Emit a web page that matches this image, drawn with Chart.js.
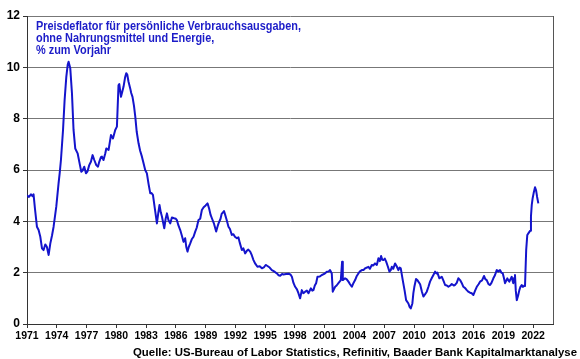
<!DOCTYPE html>
<html>
<head>
<meta charset="utf-8">
<script src="https://cdn.jsdelivr.net/npm/chart.js@4"></script>
<style>
html,body{margin:0;padding:0;background:#fff;}
canvas{display:block;}
</style>
</head>
<body>
<canvas id="c" width="580" height="359"></canvas>
<script>
const titleLines = ["Preisdeflator für persönliche Verbrauchsausgaben,", "ohne Nahrungsmittel und Energie,", "% zum Vorjahr"];
const sourceText = "Quelle: US-Bureau of Labor Statistics, Refinitiv, Baader Bank Kapitalmarktanalyse";
const yTicks = [0, 2, 4, 6, 8, 10, 12];
const xTickYears = [1971,1974,1977,1980,1983,1986,1989,1992,1995,1998,2001,2004,2007,2010,2013,2016,2019,2022];

const years = [
1971.00,1971.20,1971.40,1971.55,1971.66,1971.80,1972.00,1972.17,1972.34,1972.51,1972.67,1972.84,1973.00,1973.18,1973.35,1973.52,1973.68,1973.95,
1974.18,1974.30,1974.42,1974.63,1974.79,1974.96,1975.10,1975.19,1975.36,1975.53,1975.69,1975.86,1976.10,1976.30,1976.47,1976.60,1976.77,1976.94,
1977.10,1977.27,1977.44,1977.61,1977.78,1977.98,1978.15,1978.28,1978.45,1978.55,1978.71,1978.89,1978.99,1979.22,1979.46,1979.66,1979.89,1980.06,
1980.22,1980.30,1980.47,1980.60,1980.73,1980.88,1981.00,1981.10,1981.23,1981.40,1981.50,1981.63,1981.78,1981.91,1982.05,1982.24,1982.40,1982.58,
1982.75,1982.91,1983.08,1983.25,1983.42,1983.55,1983.69,1983.90,1984.09,1984.22,1984.35,1984.48,1984.60,1984.83,1984.97,1985.10,1985.25,1985.43,
1985.60,1985.83,1986.00,1986.10,1986.25,1986.44,1986.60,1986.77,1986.94,1987.05,1987.17,1987.30,1987.45,1987.60,1987.78,1987.95,1988.10,1988.28,
1988.45,1988.62,1988.80,1989.00,1989.19,1989.35,1989.50,1989.63,1989.85,1990.06,1990.20,1990.30,1990.50,1990.62,1990.74,1990.85,1990.97,1991.12,
1991.30,1991.45,1991.64,1991.80,1991.95,1992.15,1992.30,1992.45,1992.65,1992.80,1992.98,1993.15,1993.30,1993.49,1993.65,1993.82,1994.00,1994.22,
1994.45,1994.67,1994.90,1995.05,1995.23,1995.45,1995.67,1995.90,1996.18,1996.35,1996.51,1996.70,1996.84,1997.10,1997.34,1997.55,1997.69,1997.85,
1998.02,1998.20,1998.35,1998.52,1998.69,1998.85,1999.03,1999.20,1999.36,1999.60,1999.75,1999.86,2000.00,2000.13,2000.27,2000.50,2000.71,2000.95,
2001.21,2001.40,2001.54,2001.71,2001.81,2002.05,2002.20,2002.38,2002.62,2002.75,2002.82,2003.05,2003.20,2003.39,2003.55,2003.73,2003.90,2004.06,
2004.20,2004.39,2004.55,2004.74,2004.90,2005.07,2005.25,2005.40,2005.55,2005.74,2005.90,2006.07,2006.25,2006.41,2006.55,2006.68,2006.80,2006.91,
2007.05,2007.19,2007.35,2007.52,2007.65,2007.76,2007.90,2008.09,2008.25,2008.42,2008.55,2008.66,2008.86,2009.05,2009.20,2009.43,2009.55,2009.67,
2009.83,2009.93,2010.03,2010.20,2010.35,2010.61,2010.80,2010.94,2011.10,2011.28,2011.45,2011.61,2011.80,2011.95,2012.12,2012.25,2012.35,2012.55,
2012.79,2012.95,2013.13,2013.30,2013.46,2013.65,2013.80,2014.00,2014.13,2014.30,2014.46,2014.64,2014.80,2014.97,2015.15,2015.31,2015.50,2015.64,
2015.81,2015.98,2016.15,2016.32,2016.50,2016.65,2016.85,2017.05,2017.18,2017.32,2017.50,2017.66,2017.80,2017.99,2018.15,2018.33,2018.50,2018.66,
2018.80,2018.94,2019.05,2019.17,2019.30,2019.40,2019.50,2019.60,2019.72,2019.84,2019.92,2020.00,2020.10,2020.17,2020.25,2020.35,2020.48,2020.61,
2020.72,2020.85,2020.93,2021.01,2021.10,2021.18,2021.30,2021.41,2021.55,2021.69,2021.78,2021.86,2021.95,2022.05,2022.19,2022.30,2022.40,2022.52
];
const values = [
5.02,4.95,5.05,4.98,5.05,4.5,3.79,3.66,3.4,2.95,2.88,3.1,3.01,2.69,3.14,3.45,3.79,4.57,
5.48,5.9,6.39,7.56,8.73,9.63,10.1,10.22,9.96,8.99,7.56,6.84,6.65,6.26,5.93,5.98,6.13,5.87,
5.95,6.19,6.32,6.58,6.39,6.19,6.13,6.32,6.5,6.52,6.39,6.65,6.84,6.78,7.36,7.23,7.56,7.69,
9.3,9.35,8.85,9.05,9.25,9.6,9.77,9.72,9.44,9.18,9.0,8.85,8.5,8.08,7.5,7.04,6.75,6.52,
6.25,6.0,5.87,5.45,5.09,5.1,5.03,4.45,3.92,4.3,4.64,4.35,4.18,3.73,4.1,4.31,4.05,3.92,
4.15,4.12,4.1,4.05,3.85,3.66,3.45,3.2,3.34,3.0,2.82,3.0,3.14,3.3,3.4,3.6,3.75,4.05,
4.1,4.44,4.55,4.62,4.7,4.5,4.25,4.12,3.9,3.6,3.8,3.92,4.1,4.3,4.34,4.4,4.25,4.05,
3.79,3.7,3.47,3.5,3.4,3.34,3.38,3.15,2.88,2.95,2.75,2.85,2.9,2.82,2.68,2.49,2.35,2.23,
2.25,2.17,2.22,2.3,2.26,2.2,2.1,2.05,1.97,1.9,1.88,1.95,1.93,1.95,1.96,1.93,1.84,1.6,
1.45,1.35,1.2,1.0,1.32,1.2,1.26,1.3,1.2,1.39,1.3,1.32,1.5,1.59,1.84,1.85,1.91,1.95,
2.04,2.05,2.1,1.97,1.26,1.45,1.5,1.59,1.71,2.43,1.71,1.78,1.75,1.65,1.55,1.45,1.6,1.71,
1.85,1.97,2.05,2.1,2.1,2.17,2.2,2.23,2.15,2.3,2.28,2.36,2.3,2.56,2.45,2.65,2.5,2.49,
2.55,2.43,2.25,2.04,2.1,2.23,2.15,2.36,2.25,2.1,2.2,2.17,1.71,1.3,0.93,0.8,0.67,0.61,
0.8,1.2,1.45,1.75,1.7,1.55,1.25,1.07,1.15,1.26,1.45,1.65,1.8,1.91,2.04,1.97,2.0,1.78,
1.84,1.7,1.52,1.5,1.45,1.5,1.56,1.5,1.52,1.6,1.78,1.71,1.6,1.45,1.4,1.32,1.25,1.22,
1.2,1.13,1.3,1.45,1.55,1.65,1.7,1.87,1.75,1.71,1.55,1.52,1.6,1.78,1.9,2.1,2.05,2.1,
2.0,1.97,1.8,1.59,1.7,1.78,1.7,1.65,1.75,1.84,1.7,1.59,1.8,1.91,1.3,0.93,1.1,1.32,
1.45,1.52,1.45,1.45,1.5,1.48,2.9,3.47,3.55,3.63,4.2,4.64,4.9,5.1,5.33,5.2,4.95,4.7
];

const points = years.map((x, i) => ({x: x, y: values[i]}));
const FONT = '"Liberation Sans", Arial, sans-serif';

const decor = {
  id: 'decor',
  afterDraw(chart) {
    const ctx = chart.ctx;
    const a = chart.chartArea;
    ctx.save();
    // right border
    ctx.strokeStyle = '#555';
    ctx.lineWidth = 1;
    ctx.beginPath();
    ctx.moveTo(Math.round(a.right) + 0.5, a.top);
    ctx.lineTo(Math.round(a.right) + 0.5, a.bottom);
    ctx.stroke();
    // title
    ctx.fillStyle = '#1c1cc8';
    ctx.font = 'bold 13px ' + FONT;
    ctx.textBaseline = 'alphabetic';
    ctx.textAlign = 'left';
    const w1 = ctx.measureText(titleLines[0]).width;
    const sx = 265 / w1;
    titleLines.forEach((t, i) => {
      ctx.save();
      ctx.translate(36, 29.5 + i * 12);
      ctx.scale(sx, 1);
      ctx.fillText(t, 0, 0);
      ctx.restore();
    });
    // source
    ctx.fillStyle = '#000';
    ctx.font = 'bold 11.5px ' + FONT;
    const ws = ctx.measureText(sourceText).width;
    const ss = 444 / ws;
    ctx.save();
    ctx.translate(577 - 444, 356);
    ctx.scale(ss, 1);
    ctx.fillText(sourceText, 0, 0);
    ctx.restore();
    ctx.restore();
  }
};

new Chart(document.getElementById('c'), {
  type: 'line',
  data: {
    datasets: [{
      data: points,
      borderColor: '#1414cc',
      borderWidth: 2,
      pointRadius: 0,
      tension: 0,
      fill: false,
      borderJoinStyle: 'round'
    }]
  },
  options: {
    responsive: false,
    animation: false,
    devicePixelRatio: 1,
    parsing: false,
    layout: { padding: { top: 16, right: 27, bottom: 0, left: 0 } },
    plugins: { legend: { display: false }, tooltip: { enabled: false }, title: { display: false } },
    scales: {
      x: {
        type: 'linear',
        min: 1971,
        max: 2024,
        afterFit: s => { s.height = 35; },
        afterBuildTicks: s => { s.ticks = xTickYears.map(v => ({value: v})); },
        ticks: {
          autoSkip: false,
          maxRotation: 0,
          color: '#000',
          padding: 2,
          font: { family: FONT, size: 10.5, weight: 'bold' },
          callback: v => String(v)
        },
        grid: { drawOnChartArea: false, drawTicks: true, tickLength: 4, color: '#333' },
        border: { display: true, color: '#333', width: 1 }
      },
      y: {
        min: 0,
        max: 12,
        afterFit: s => { s.width = 27; },
        afterBuildTicks: s => { s.ticks = yTicks.map(v => ({value: v})); },
        ticks: {
          color: '#000',
          padding: 3,
          font: { family: FONT, size: 12, weight: 'bold' },
          callback: v => String(v)
        },
        grid: { color: '#777', lineWidth: 1, drawTicks: true, tickLength: 4, tickColor: '#333' },
        border: { display: true, color: '#333', width: 1 }
      }
    }
  },
  plugins: [decor]
});
</script>
</body>
</html>
